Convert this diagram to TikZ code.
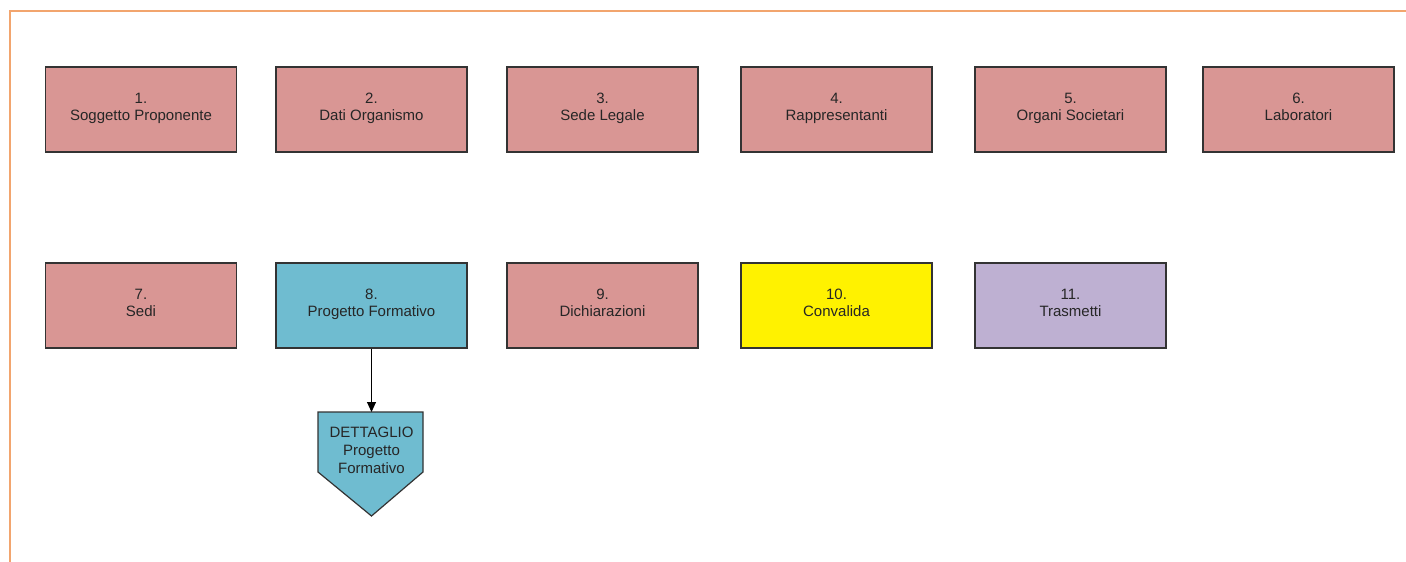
\documentclass[tikz,border=0pt]{standalone}
\usepackage{fontspec}
\setmainfont{Liberation Sans}
\usetikzlibrary{arrows.meta}
\definecolor{pinkbox}{HTML}{D99694}
\definecolor{cyanbox}{HTML}{6FBCD0}
\definecolor{lilacbox}{HTML}{BEB0D2}
\definecolor{framecol}{HTML}{F2A56E}
\definecolor{edgecol}{HTML}{333333}
\tikzset{
  card/.style={draw=edgecol, line width=1.2pt, minimum width=191pt, minimum height=85pt,
    inner sep=0pt, align=center, font=\fontsize{15}{17}\selectfont, text=black!85},
  pinkcard/.style={card, fill=pinkbox},
  conn/.style={draw=black, line width=1pt, -{Triangle[length=10pt,width=9pt]}},
}
\begin{document}
\begin{tikzpicture}[x=1pt,y=-1pt]
\useasboundingbox (0,0) rectangle (1406,562);
\fill[white] (0,0) rectangle (1406,562);
\draw[framecol, line width=2pt] (9.5,562) -- (9.5,11) -- (1406,11);
% row 1
\node[pinkcard] (n1) at (141,109.5) {1.\\Soggetto Proponente\strut};
\node[pinkcard] (n2) at (371.5,109.5) {2.\\Dati Organismo\strut};
\node[pinkcard] (n3) at (602.5,109.5) {3.\\Sede Legale\strut};
\node[pinkcard] (n4) at (836.5,109.5) {4.\\Rappresentanti\strut};
\node[pinkcard] (n5) at (1070.5,109.5) {5.\\Organi Societari\strut};
\node[pinkcard] (n6) at (1298.5,109.5) {6.\\Laboratori\strut};
% row 2
\node[pinkcard] (n7) at (141,305.5) {7.\\Sedi\strut};
\node[card, fill=cyanbox] (n8) at (371.5,305.5) {8.\\Progetto Formativo\strut};
\node[pinkcard] (n9) at (602.5,305.5) {9.\\Dichiarazioni\strut};
\node[card, fill=yellow] (n10) at (836.5,305.5) {10.\\Convalida\strut};
\node[card, fill=lilacbox] (n11) at (1070.5,305.5) {11.\\Trasmetti\strut};
% detail pentagon
\draw[draw=edgecol, line width=1.2pt, fill=cyanbox]
  (318,412) -- (423,412) -- (423,472) -- (371.5,516) -- (318,472) -- cycle;
\coordinate (dtop) at (371.5,412);
\node[align=center, font=\fontsize{15}{18}\selectfont, text=black!85, inner sep=0pt]
  (det) at (371.5,453) {DETTAGLIO\\Progetto\\Formativo\strut};
\draw[conn] (n8.south) -- (dtop);
\end{tikzpicture}
\end{document}
